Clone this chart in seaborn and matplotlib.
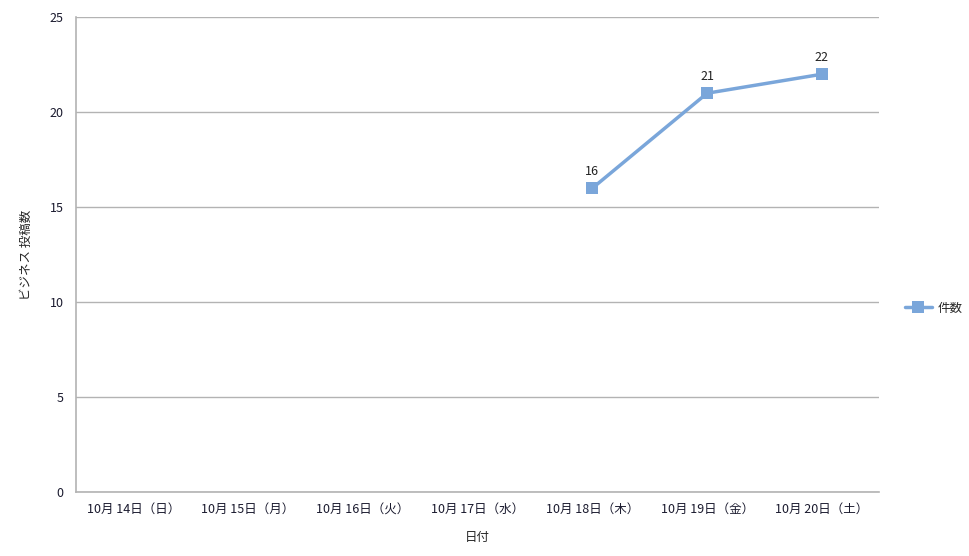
import numpy as np
import pandas as pd
import matplotlib
matplotlib.use("Agg")
import matplotlib.pyplot as plt
import seaborn as sns

# -----------------------------
# DATA
# -----------------------------
dates = ["10月 14日（日）", "10月 15日（月）", "10月 16日（火）", "10月 17日（水）",
         "10月 18日（木）", "10月 19日（金）", "10月 20日（土）"]
counts = [np.nan, np.nan, np.nan, np.nan, 16, 21, 22]
series_name = "件数"

df = pd.DataFrame({"pos": range(len(dates)), "date": dates, series_name: counts})

# -----------------------------
# STYLE
# -----------------------------
sns.set_style("white")
plt.rcParams["font.family"] = ["Noto Sans CJK JP", "DejaVu Sans"]

line_color = "#7aa6da"
grid_color = "#b3b3b3"

fig = plt.figure(figsize=(9.69, 5.56), dpi=100)
ax = fig.add_axes([0.0784, 0.115, 0.829, 0.854])

sns.lineplot(data=df, x="pos", y=series_name, ax=ax, color=line_color,
             linewidth=2.5, marker="s", markersize=8, markeredgewidth=0,
             label=series_name, legend=False)

# data labels
for x, y in zip(df["pos"], df[series_name]):
    if not np.isnan(y):
        ax.annotate(f"{int(y)}", (x, y), xytext=(0, 7), textcoords="offset points",
                    ha="center", va="bottom", fontsize=9, color="#222222")

# axes
ax.set_xlim(-0.5, len(dates) - 0.5)
ax.set_ylim(0, 25)
ax.set_yticks(range(0, 26, 5))
ax.set_xticks(range(len(dates)))
ax.set_xticklabels(dates, fontsize=9, color="#1a1a2e")
ax.set_xticks(np.arange(-0.5, len(dates)), minor=True)
ax.tick_params(axis="x", which="major", length=0, pad=8)
ax.tick_params(axis="x", which="minor", length=5, color=grid_color, width=1.2)
ax.tick_params(axis="y", length=5, color=grid_color, width=1, labelsize=9,
               labelcolor="#1a1a2e", pad=4)

ax.yaxis.grid(True, color=grid_color, linewidth=1)
ax.set_axisbelow(True)
for side in ["top", "right"]:
    ax.spines[side].set_visible(False)
for side in ["left", "bottom"]:
    ax.spines[side].set_color(grid_color)
    ax.spines[side].set_linewidth(1.2)

ax.set_xlabel("日付", fontsize=9, labelpad=11)
ax.set_ylabel("ビジネス 投稿数", fontsize=9, labelpad=12)

handles, labels = ax.get_legend_handles_labels()
fig.legend(handles, labels, loc="center left", bbox_to_anchor=(0.922, 0.446),
           frameon=False, fontsize=9, handlelength=2.2, handletextpad=0.4)

plt.savefig("out.png", dpi=100)
plt.close()
